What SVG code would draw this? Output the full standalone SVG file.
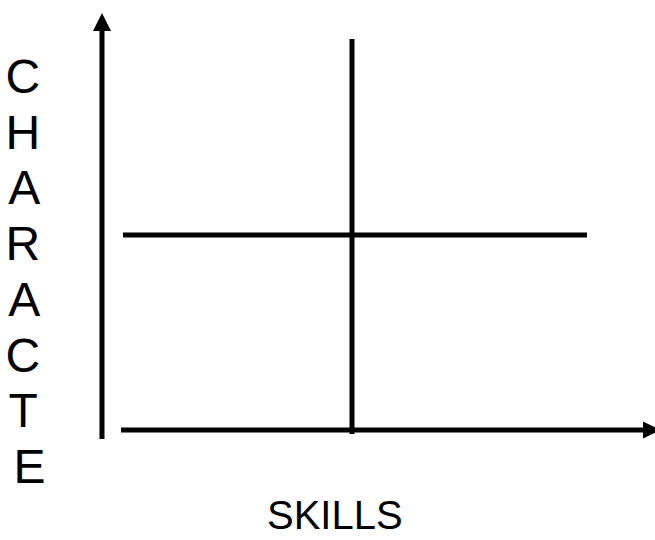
<svg xmlns="http://www.w3.org/2000/svg" width="655" height="540" viewBox="0 0 655 540">
<style>
.ln{stroke:#000;stroke-width:5;fill:none}
.ah{fill:#000}
.lbl{font-family:"Liberation Sans",Arial,sans-serif;fill:#000}
</style>
<rect width="655" height="540" fill="#fff"/>
<g id="connectors">
<line class="ln" x1="102" y1="30" x2="102" y2="439"/>
<polygon class="ah" points="102,13 93,31 111,31"/>
<line class="ln" x1="121" y1="430" x2="644" y2="430"/>
<polygon class="ah" points="661,430 643,421.5 643,438.5"/>
<line class="ln" x1="352" y1="39" x2="352" y2="434"/>
<line class="ln" x1="123" y1="235" x2="587" y2="235"/>
</g>
<g id="y-label">
<text class="lbl" font-size="48" text-anchor="middle">
<tspan x="29.5" y="93">C</tspan>
<tspan x="29.5" y="148.7">H</tspan>
<tspan x="29.5" y="204.4">A</tspan>
<tspan x="29.5" y="260.1">R</tspan>
<tspan x="29.5" y="315.9">A</tspan>
<tspan x="29.5" y="371.6">C</tspan>
<tspan x="29.5" y="427.3">T</tspan>
<tspan x="29.5" y="483">E</tspan>
</text>
</g>
<g id="x-label">
<text class="lbl" font-size="40" x="267" y="529">SKILLS</text>
</g>
</svg>
